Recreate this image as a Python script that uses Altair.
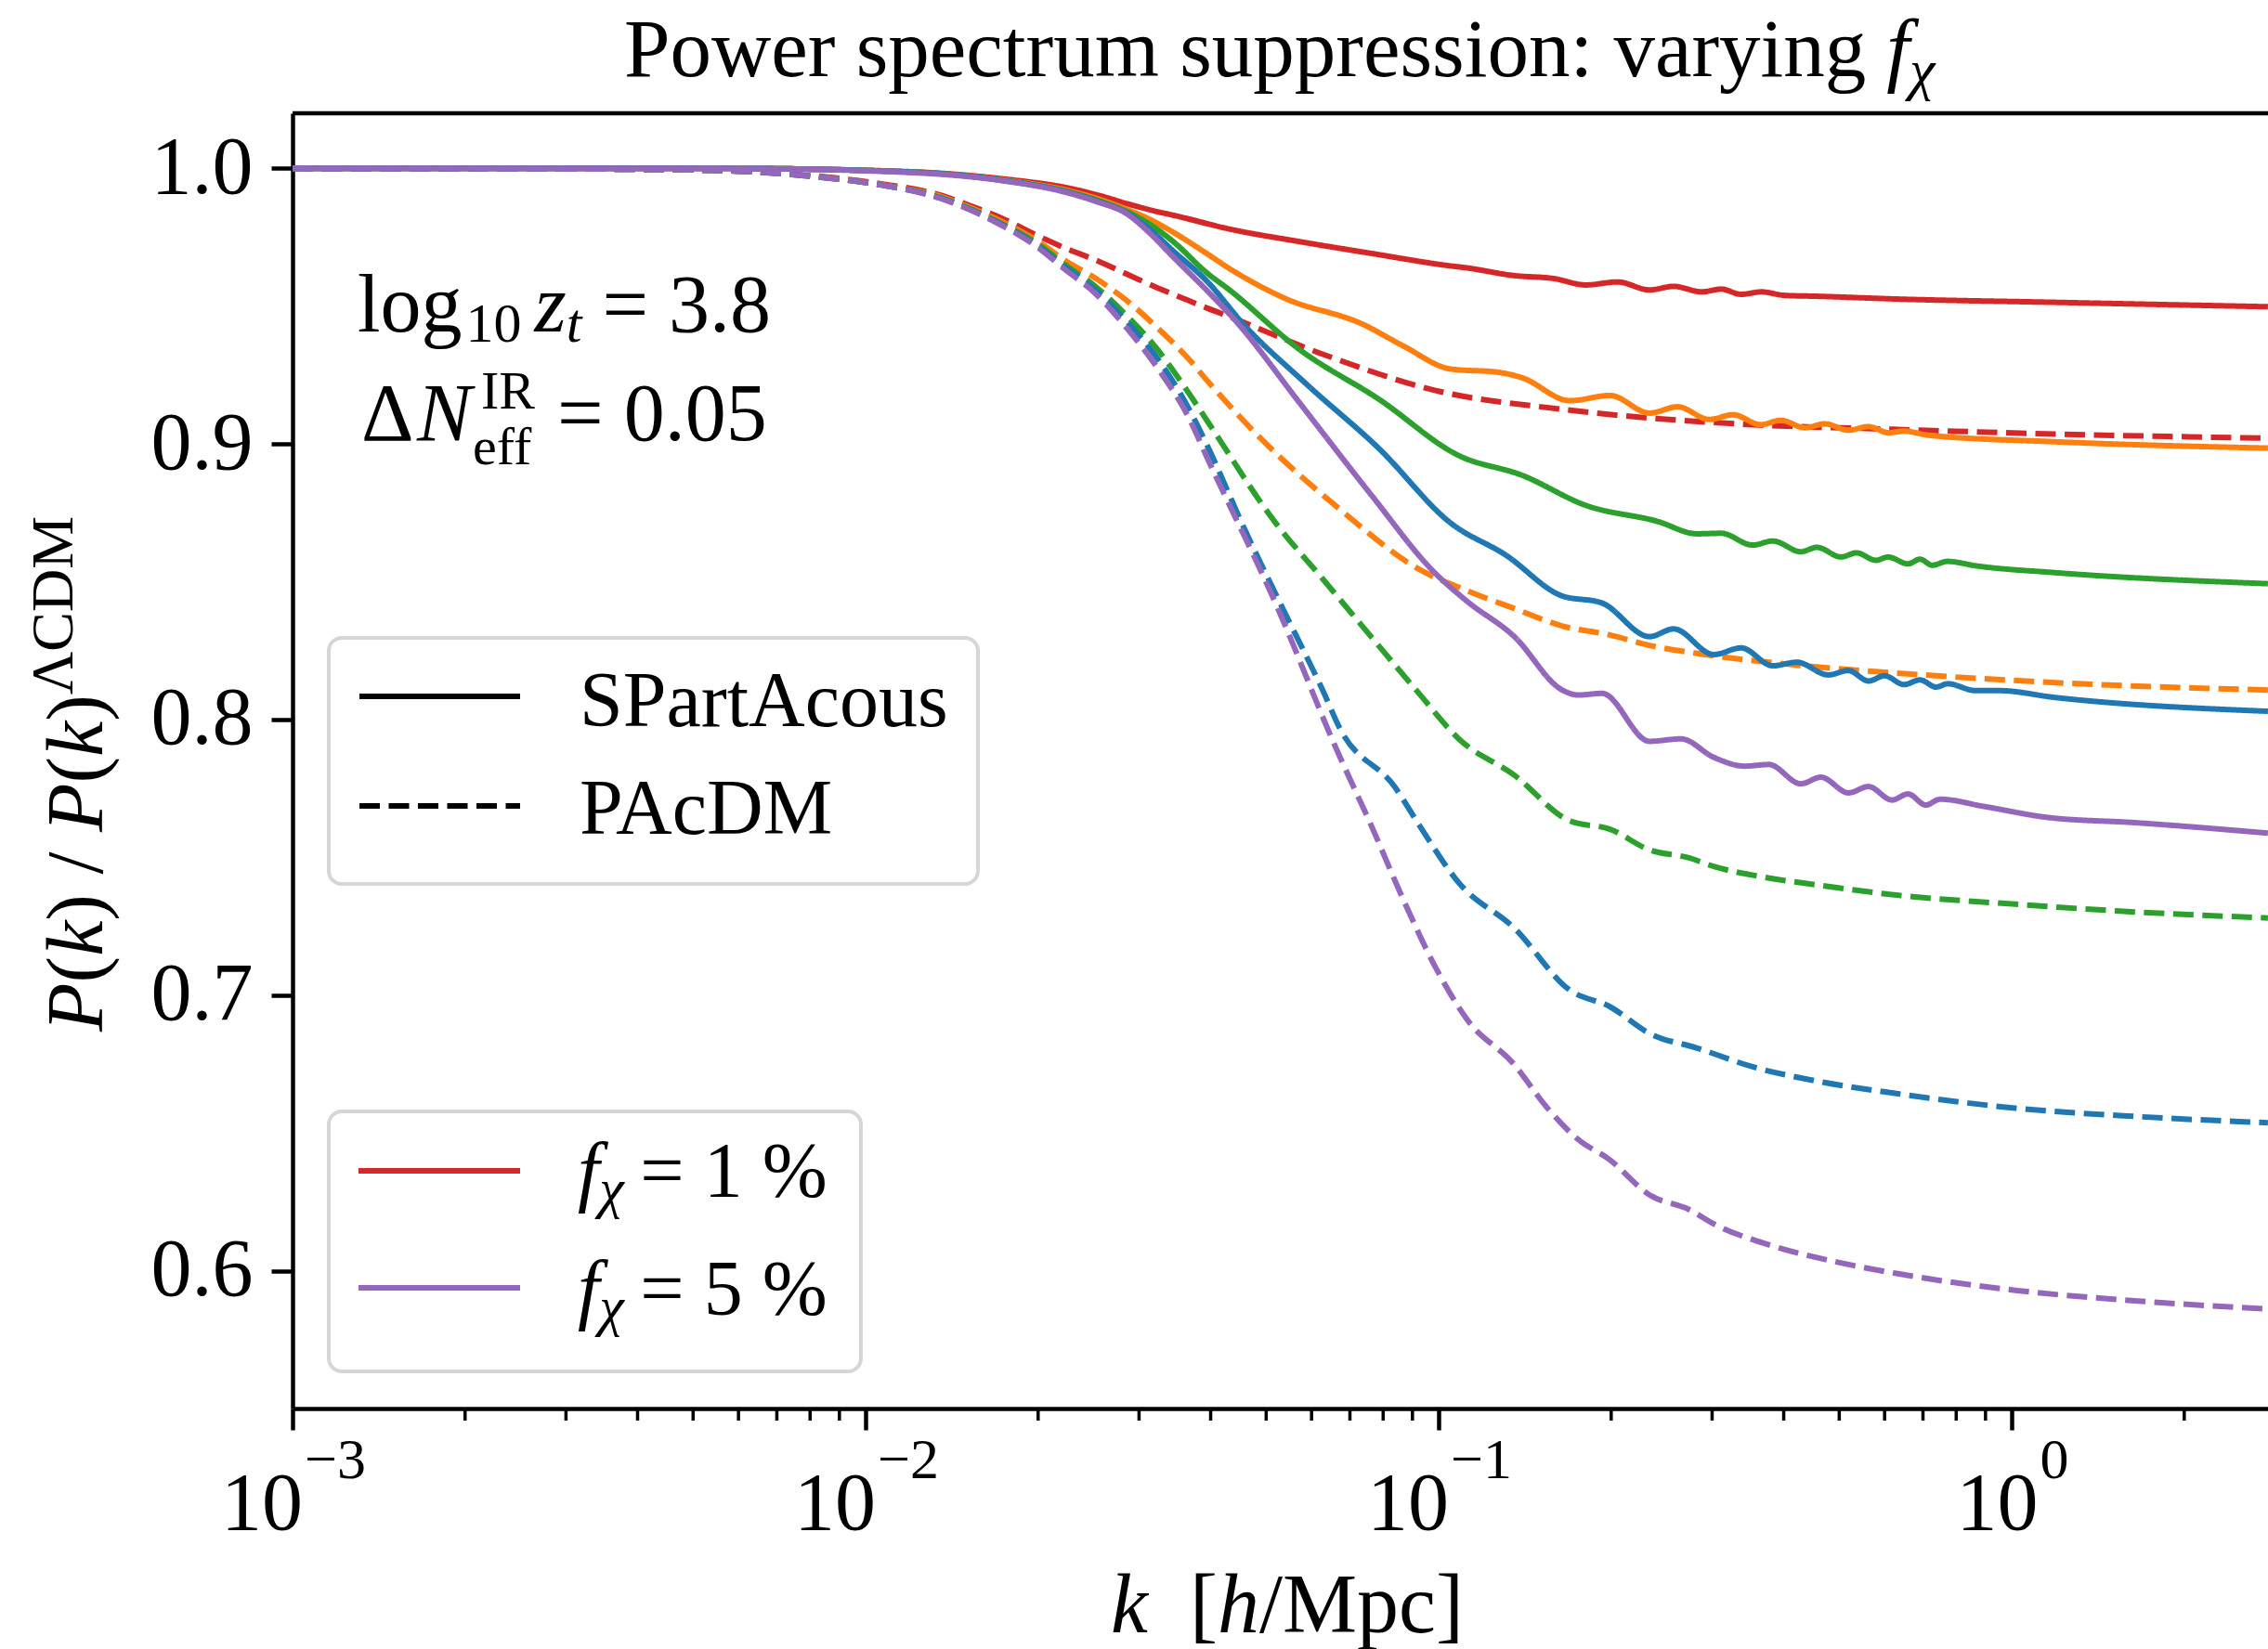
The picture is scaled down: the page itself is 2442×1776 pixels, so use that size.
import altair as alt
import pandas as pd

# ---------------- data (log10 k, P/P_LCDM) ----------------
red_s_logk = [-3.0, -2.246, -1.922, -1.760, -1.652, -1.598, -1.544, -1.491, -1.463, -1.365, -1.239, -1.113,
              -0.986, -0.951, -0.868, -0.798, -0.743, -0.688, -0.632, -0.590, -0.541, -0.507, -0.472, -0.437,
              -0.396, -0.340, -0.201, 0.076, 0.447]
red_s_ratio = [1.0, 1.0, 0.9988, 0.9962, 0.9931, 0.9905, 0.9872, 0.9843, 0.9830, 0.9780, 0.9733, 0.9690,
               0.9648, 0.9639, 0.9611, 0.9600, 0.9577, 0.9588, 0.9559, 0.9572, 0.9552, 0.9562, 0.9543, 0.9552,
               0.9539, 0.9536, 0.9526, 0.9514, 0.9498]

orange_s_logk = [-3.0, -2.246, -1.922, -1.760, -1.652, -1.598, -1.544, -1.504, -1.463, -1.404, -1.367, -1.270,
                 -1.131, -1.062, -0.979, -0.895, -0.854, -0.771, -0.701, -0.632, -0.583, -0.528, -0.486, -0.438,
                 -0.403, -0.361, -0.326, -0.285, -0.250, -0.215, -0.188, -0.146, 0.076, 0.447]
orange_s_ratio = [1.0, 1.0, 0.9987, 0.9958, 0.9922, 0.9892, 0.9851, 0.9815, 0.9768, 0.9690, 0.9639, 0.9530,
                  0.9433, 0.9356, 0.9272, 0.9260, 0.9240, 0.9157, 0.9176, 0.9112, 0.9135, 0.9089, 0.9106, 0.9070,
                  0.9086, 0.9059, 0.9073, 0.9050, 0.9063, 0.9041, 0.9047, 0.9032, 0.9008, 0.8985]

green_s_logk = [-3.0, -2.246, -1.922, -1.760, -1.652, -1.598, -1.544, -1.504, -1.463, -1.404, -1.367, -1.243,
                -1.104, -0.965, -0.854, -0.743, -0.618, -0.549, -0.507, -0.452, -0.417, -0.368, -0.340, -0.298,
                -0.271, -0.237, -0.216, -0.181, -0.160, -0.139, -0.112, -0.063, 0.076, 0.447]
green_s_ratio = [1.0, 1.0, 0.9987, 0.9957, 0.9918, 0.9886, 0.9843, 0.9797, 0.9734, 0.9620, 0.9562, 0.9343,
                 0.9162, 0.8958, 0.8886, 0.8777, 0.8719, 0.8674, 0.8676, 0.8633, 0.8648, 0.8609, 0.8625, 0.8590,
                 0.8605, 0.8578, 0.8590, 0.8565, 0.8582, 0.8560, 0.8574, 0.8558, 0.8533, 0.8493]

blue_s_logk = [-3.0, -2.246, -1.922, -1.760, -1.652, -1.598, -1.544, -1.504, -1.463, -1.404, -1.340, -1.229,
               -1.104, -0.979, -0.883, -0.785, -0.715, -0.632, -0.590, -0.520, -0.472, -0.417, -0.375, -0.320,
               -0.285, -0.250, -0.222, -0.188, -0.160, -0.132, -0.112, -0.063, -0.022, 0.076, 0.447]
blue_s_ratio = [1.0, 1.0, 0.9987, 0.9956, 0.9916, 0.9882, 0.9838, 0.9778, 0.9700, 0.9590, 0.9433, 0.9214,
                0.8983, 0.8713, 0.8597, 0.8449, 0.8423, 0.8301, 0.8329, 0.8236, 0.8260, 0.8195, 0.8208, 0.8162,
                0.8178, 0.8140, 0.8159, 0.8127, 0.8144, 0.8118, 0.8130, 0.8105, 0.8105, 0.8080, 0.8030]

purple_s_logk = [-3.0, -2.246, -1.922, -1.760, -1.652, -1.598, -1.544, -1.504, -1.463, -1.404, -1.354, -1.243,
                 -1.118, -1.007, -0.951, -0.868, -0.785, -0.757, -0.715, -0.632, -0.577, -0.520, -0.466, -0.424,
                 -0.368, -0.333, -0.285, -0.250, -0.209, -0.181, -0.150, -0.125, -0.049, 0.062, 0.214, 0.447]
purple_s_ratio = [1.0, 1.0, 0.9985, 0.9955, 0.9914, 0.9880, 0.9835, 0.9765, 0.9678, 0.9556, 0.9446, 0.9150,
                  0.8816, 0.8533, 0.8430, 0.8301, 0.8108, 0.8089, 0.8095, 0.7921, 0.7930, 0.7863, 0.7831, 0.7837,
                  0.7767, 0.7791, 0.7734, 0.7757, 0.7708, 0.7730, 0.7690, 0.7711, 0.7685, 0.7645, 0.7626, 0.7588]

red_d_logk = [-3.0, -2.5, -2.246, -2.084, -1.976, -1.868, -1.814, -1.760, -1.706, -1.652, -1.598, -1.544,
              -1.490, -1.436, -1.404, -1.381, -1.200, -1.007, -0.785, -0.480, -0.201, 0.076, 0.447]
red_d_ratio = [1.0, 0.9998, 0.9992, 0.9972, 0.9945, 0.9902, 0.9862, 0.9817, 0.9762, 0.9711, 0.9667, 0.9616,
               0.9566, 0.9520, 0.9493, 0.9475, 0.9324, 0.9195, 0.9126, 0.9073, 0.9053, 0.9036, 0.9021]

orange_d_logk = [-3.0, -2.5, -2.246, -2.084, -1.976, -1.868, -1.814, -1.760, -1.706, -1.652, -1.598, -1.544,
                 -1.490, -1.436, -1.404, -1.311, -1.173, -1.034, -0.951, -0.868, -0.785, -0.701, -0.632, -0.535,
                 -0.340, -0.132, 0.076, 0.447]
orange_d_ratio = [1.0, 0.9998, 0.9992, 0.9970, 0.9942, 0.9897, 0.9855, 0.9805, 0.9745, 0.9666, 0.9600, 0.9520,
                  0.9420, 0.9308, 0.9230, 0.9021, 0.8764, 0.8545, 0.8468, 0.8403, 0.8340, 0.8307, 0.8269, 0.8236,
                  0.8191, 0.8159, 0.8134, 0.8107]

green_d_logk = [-3.0, -2.5, -2.246, -2.084, -1.976, -1.868, -1.814, -1.760, -1.706, -1.652, -1.598, -1.544,
                -1.490, -1.436, -1.404, -1.284, -1.201, -1.118, -1.034, -0.965, -0.868, -0.771, -0.701, -0.632,
                -0.563, -0.520, -0.438, -0.340, -0.201, 0.006, 0.214, 0.447]
green_d_ratio = [1.0, 0.9998, 0.9992, 0.9969, 0.9941, 0.9893, 0.9850, 0.9797, 0.9735, 0.9650, 0.9570, 0.9465,
                 0.9341, 0.9184, 0.9084, 0.8712, 0.8507, 0.8301, 0.8094, 0.7930, 0.7798, 0.7632, 0.7602, 0.7527,
                 0.7498, 0.7467, 0.7430, 0.7400, 0.7363, 0.7330, 0.7302, 0.7280]

blue_d_logk = [-3.0, -2.5, -2.246, -2.084, -1.976, -1.868, -1.814, -1.760, -1.706, -1.652, -1.598, -1.544,
               -1.490, -1.436, -1.404, -1.339, -1.269, -1.201, -1.173, -1.076, -1.034, -0.965, -0.868, -0.771,
               -0.701, -0.632, -0.549, -0.452, -0.340, -0.201, 0.006, 0.214, 0.447]
blue_d_ratio = [1.0, 0.9998, 0.9992, 0.9969, 0.9941, 0.9892, 0.9848, 0.9794, 0.9728, 0.9642, 0.9557, 0.9443,
                0.9308, 0.9128, 0.8995, 0.8692, 0.8390, 0.8100, 0.7970, 0.7754, 0.7617, 0.7408, 0.7243, 0.7018,
                0.6958, 0.6861, 0.6808, 0.6740, 0.6688, 0.6643, 0.6590, 0.6560, 0.6537]

purple_d_logk = [-3.0, -2.5, -2.246, -2.084, -1.976, -1.868, -1.814, -1.760, -1.706, -1.652, -1.598, -1.544,
                 -1.490, -1.436, -1.404, -1.280, -1.180, -1.118, -1.062, -1.007, -0.951, -0.868, -0.813, -0.757,
                 -0.701, -0.632, -0.563, -0.520, -0.424, -0.313, -0.201, 0.006, 0.214, 0.447]
purple_d_ratio = [1.0, 0.9998, 0.9992, 0.9969, 0.9941, 0.9890, 0.9846, 0.9790, 0.9723, 0.9633, 0.9544, 0.9420,
                  0.9274, 0.9095, 0.8950, 0.8400, 0.7900, 0.7617, 0.7348, 0.7107, 0.6913, 0.6748, 0.6597, 0.6477,
                  0.6402, 0.6275, 0.6222, 0.6170, 0.6094, 0.6035, 0.5990, 0.5929, 0.5891, 0.5861]

FRACTIONS = ["1%", "2%", "3%", "4%", "5%"]
COLORS = ["#d62728", "#ff7f0e", "#2ca02c", "#1f77b4", "#9467bd"]
MODELS = ["SPartAcous", "PAcDM"]

SERIES = [
    ("1%", "SPartAcous", red_s_logk, red_s_ratio), ("1%", "PAcDM", red_d_logk, red_d_ratio),
    ("2%", "SPartAcous", orange_s_logk, orange_s_ratio), ("2%", "PAcDM", orange_d_logk, orange_d_ratio),
    ("3%", "SPartAcous", green_s_logk, green_s_ratio), ("3%", "PAcDM", green_d_logk, green_d_ratio),
    ("4%", "SPartAcous", blue_s_logk, blue_s_ratio), ("4%", "PAcDM", blue_d_logk, blue_d_ratio),
    ("5%", "SPartAcous", purple_s_logk, purple_s_ratio), ("5%", "PAcDM", purple_d_logk, purple_d_ratio),
]

XMAX = 2.8
XTICK_VALUES = [0.001, 0.01, 0.1, 1.0]
XTICK_EXP = ["\u22123", "\u22122", "\u22121", "0"]
YTICK_VALUES = [0.6, 0.7, 0.8, 0.9, 1.0]
MINOR_TICKS = [m * 10.0 ** e for e in (-3, -2, -1, 0) for m in range(2, 10) if m * 10.0 ** e <= XMAX]

# ---------------- layout ----------------
FONT = "Liberation Serif"
OX, OY = 315, 122          # plot origin in page pixels
PW, PH = 2127, 1395        # plot size
ONE = pd.DataFrame({"a": [0]})

W_REG = {' ': 250, '(': 333, ')': 333, '/': 278, '[': 333, ']': 333, 'M': 889, 'p': 500, 'c': 444, '=': 564,
         '.': 250, '%': 833, 'l': 278, 'o': 500, 'g': 500, 'P': 556, 'w': 722, 'e': 444, 'r': 333, 's': 389,
         't': 278, 'u': 500, 'm': 778, 'i': 278, 'n': 500, ':': 278, 'v': 500, 'a': 444, 'y': 500,
         '\u0394': 612, '\u039b': 722, 'C': 667, 'D': 722, '\u2212': 564}
W_IT = {'P': 611, 'k': 444, 'h': 500, 'z': 389, 't': 278, 'N': 667, 'f': 278, '\u03c7': 500}


def width(text, italic, size):
    table = W_IT if italic else W_REG
    return sum(table.get(ch, 500) for ch in text) / 1000.0 * size


def page_text(text, x, y, size, italic=False, angle=None, align="left"):
    kw = dict(text=text, align=align, baseline="alphabetic", font=FONT, fontSize=size,
              fontStyle="italic" if italic else "normal", color="black")
    if angle is not None:
        kw["angle"] = angle
    return alt.Chart(ONE).mark_text(**kw).encode(x=alt.value(x - OX), y=alt.value(y - OY))


def hruns(runs, x0, y0):
    out, x = [], x0
    for r in runs:
        if isinstance(r, (int, float)):
            x += r
            continue
        text, italic, size, shift = r
        lead = len(text) - len(text.lstrip(" "))
        out.append(page_text(text.strip(" "), x + lead * 0.25 * size, y0 + shift, size, italic))
        x += width(text, italic, size)
    return out


def vruns(runs, x0, y0):
    out, y = [], y0
    for text, italic, size, shift in runs:
        out.append(page_text(text.strip(" "), x0 + shift, y, size, italic, angle=270))
        y -= width(text, italic, size)
    return out


xscale = alt.Scale(type="log", domain=[0.001, XMAX])
yscale = alt.Scale(domain=[0.55, 1.02])
xaxis = alt.Axis(values=XTICK_VALUES, labels=False, title=None, grid=False, tickSize=23, tickWidth=4.5,
                 tickColor="black", domainColor="black", domainWidth=4.5)
yaxis = alt.Axis(values=YTICK_VALUES, format=".1f", title=None, grid=False, tickSize=23, tickWidth=4.5,
                 tickColor="black", domainColor="black", domainWidth=4.5, labelFont=FONT, labelFontSize=88,
                 labelColor="black", labelPadding=20)
X = alt.X("k:Q", scale=xscale, axis=xaxis)
Y = alt.Y("ratio:Q", scale=yscale, axis=yaxis)
color_scale = alt.Scale(domain=FRACTIONS, range=COLORS)
dash_scale = alt.Scale(domain=MODELS, range=[[1, 0], [22, 9.5]])

layers = []
for frac, model, logk, ratio in SERIES:
    df = pd.DataFrame({"k": [10.0 ** v for v in logk], "ratio": ratio, "frac": frac, "model": model})
    layers.append(
        alt.Chart(df).mark_line(strokeWidth=6, clip=True, interpolate="monotone").encode(
            x=X, y=Y,
            color=alt.Color("frac:N", scale=color_scale, legend=None),
            strokeDash=alt.StrokeDash("model:N", scale=dash_scale, legend=None),
        )
    )

# top spine
layers.append(alt.Chart(ONE).mark_rule(color="black", strokeWidth=4.5).encode(
    x=alt.value(0), x2=alt.value(PW), y=alt.value(0)))

# minor ticks on the log axis
layers.append(alt.Chart(pd.DataFrame({"k": MINOR_TICKS})).mark_rule(color="black", strokeWidth=3.5).encode(
    x=X, y=alt.value(PH), y2=alt.value(PH + 13)))

# x tick labels 10^n
for val, sup in zip(XTICK_VALUES, XTICK_EXP):
    wsup = width(sup, False, 62)
    d = (88 - wsup) / 2.0
    tdf = pd.DataFrame({"k": [val]})
    layers.append(alt.Chart(tdf).mark_text(text="10", align="right", baseline="alphabetic", font=FONT,
                                           fontSize=88, color="black", dx=d).encode(
        x=X, y=alt.value(1647 - OY)))
    layers.append(alt.Chart(tdf).mark_text(text=sup, align="left", baseline="alphabetic", font=FONT,
                                           fontSize=62, color="black", dx=d + 2).encode(
        x=X, y=alt.value(1592 - OY)))

# title
layers += hruns([("Power spectrum suppression: varying", False, 89, 0), 22,
                 ("f", True, 89, 0), ("\u03c7", True, 62, 14)], 672, 82)
# x title
layers += hruns([("k", True, 90, 0), 45, ("[", False, 90, 0), ("h", True, 90, 0),
                 ("/Mpc]", False, 90, 0)], 1196, 1758)
# y title (rotated)
layers += vruns([("P", True, 86, 0), ("(", False, 86, 0), ("k", True, 86, 0), (") / ", False, 86, 0),
                 ("P", True, 86, 0), ("(", False, 86, 0), ("k", True, 86, 0), (")", False, 86, 0),
                 ("\u039bCDM", False, 64, -32)], 110, 1111)

# annotation
layers += hruns([("log", False, 88, 0), 4, ("10", False, 60, 11), 14, ("z", True, 88, 0),
                 ("t", True, 60, 11), 22, ("= 3.8", False, 88, 0)], 385, 357)
layers.append(page_text("\u0394", 389, 474, 88))
layers.append(page_text("N", 449, 474, 88, italic=True))
layers.append(page_text("IR", 518, 440, 58))
layers.append(page_text("eff", 509, 500, 58))
layers.append(page_text("= 0.05", 600, 474, 88))

# legend 1 (line style)
layers.append(alt.Chart(ONE).mark_rect(fill="white", stroke="#d6d6d6", strokeWidth=4, cornerRadius=14).encode(
    x=alt.value(354 - OX), x2=alt.value(1053 - OX), y=alt.value(687 - OY), y2=alt.value(952 - OY)))
layers.append(alt.Chart(ONE).mark_rule(color="black", strokeWidth=6).encode(
    x=alt.value(387 - OX), x2=alt.value(560 - OX), y=alt.value(750 - OY)))
layers.append(alt.Chart(ONE).mark_rule(color="black", strokeWidth=6, strokeDash=[22, 9.5]).encode(
    x=alt.value(387 - OX), x2=alt.value(560 - OX), y=alt.value(868 - OY)))
layers.append(page_text(MODELS[0], 624, 782, 84))
layers.append(page_text(MODELS[1], 624, 898, 84))

# legend 2 (colours)
layers.append(alt.Chart(ONE).mark_rect(fill="white", stroke="#d6d6d6", strokeWidth=4, cornerRadius=14).encode(
    x=alt.value(354 - OX), x2=alt.value(927 - OX), y=alt.value(1197 - OY), y2=alt.value(1477 - OY)))
for col, ly, base, lab in [(COLORS[0], 1261, 1289, "= 1 %"), (COLORS[4], 1387, 1416, "= 5 %")]:
    layers.append(alt.Chart(ONE).mark_rule(color=col, strokeWidth=6).encode(
        x=alt.value(386 - OX), x2=alt.value(560 - OX), y=alt.value(ly - OY)))
    layers += hruns([("f", True, 84, 0), ("\u03c7", True, 60, 11), 14, (lab, False, 84, 0)], 622, base)

chart = alt.layer(*layers).properties(
    width=PW, height=PH,
    padding={"left": OX, "top": OY, "right": 0, "bottom": 1776 - OY - PH},
    autosize=alt.AutoSizeParams(type="none"),
).configure_view(stroke=None)

chart.save("out.html", embed_options={"renderer": "svg", "actions": False})
